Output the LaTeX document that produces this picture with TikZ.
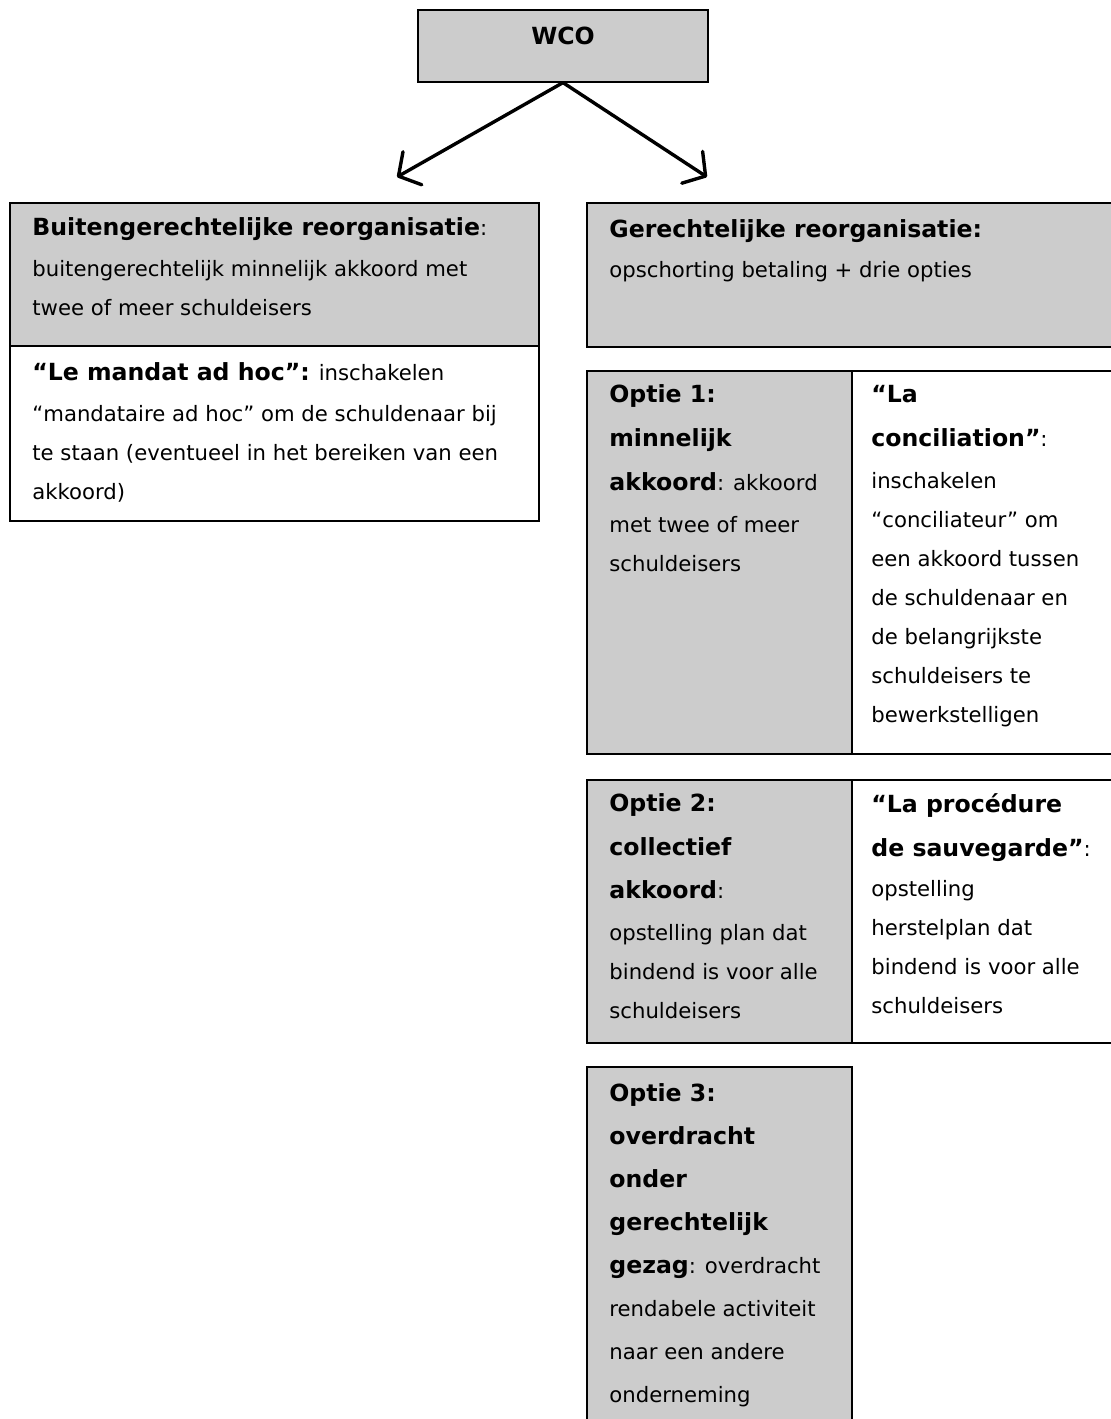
\documentclass[tikz,border=0pt]{standalone}
\usepackage{fontspec}
\setmainfont{DejaVu Sans}
\usetikzlibrary{arrows.meta}
\definecolor{cellgray}{RGB}{204,204,204}
\newcommand{\regfont}{\fontsize{10.6}{19.5}\selectfont}
\newcommand{\hdr}[1]{{\fontsize{11.8}{19.5}\selectfont\bfseries #1}}
\newcommand{\opt}[1]{{\fontsize{11.8}{19.5}\selectfont\bfseries #1}}
\tikzset{
  graycell/.style={draw=black, fill=cellgray, line width=0.6pt},
  whitecell/.style={draw=black, fill=white, line width=0.6pt},
  % anchored on the baseline of the last line
  celltext/.style={anchor=base west, inner sep=0pt, align=left, font=\regfont},
  flowarrow/.style={-{Straight Barb[length=8pt,width=19pt,round]}, line width=1.7pt, line cap=round}
}

\begin{document}
\begin{tikzpicture}[x=0.5pt, y=-0.5pt]
  \useasboundingbox (0,0) rectangle (1110,1419);

  % top box
  \node[graycell, minimum width=145pt, minimum height=36pt, inner sep=0pt] (wco) at (563,46) {};
  \node[anchor=base, inner sep=0pt] (wcolabel) at (563,44) {\opt{WCO}};

  % arrows
  \coordinate (tipL) at (397,177);
  \coordinate (tipR) at (707,177);
  \draw[flowarrow] (wco.south) -- (tipL);
  \draw[flowarrow] (wco.south) -- (tipR);

  % left column
  \draw[graycell] (10,203) rectangle (539,346);
  \draw[whitecell] (10,346) rectangle (539,521);
  \node[celltext] (buiten) at (32,315) {\hdr{Buitengerechtelijke reorganisatie}:\\[1pt]
    buitengerechtelijk minnelijk akkoord met\\
    twee of meer schuldeisers};
  \node[celltext] (mandat) at (32,499) {\hdr{“Le mandat ad hoc”:} inschakelen\\[1pt]
    “mandataire ad hoc” om de schuldenaar bij\\
    te staan (eventueel in het bereiken van een\\
    akkoord)};

  % right column
  \draw[graycell] (587,203) rectangle (1114,347);
  \node[celltext] (gerecht) at (609,277) {\hdr{Gerechtelijke reorganisatie:}\\[0.5pt]
    opschorting betaling + drie opties};

  % option 1
  \draw[graycell] (587,371) rectangle (852,754);
  \draw[whitecell] (852,371) rectangle (1114,754);
  \node[celltext] (optie1) at (609,571) {\opt{Optie 1:}\\[2.5pt]
    \opt{minnelijk}\\[2.5pt]
    \opt{akkoord}: akkoord\\[1.5pt]
    met twee of meer\\
    schuldeisers};
  \node[celltext] (concil) at (871,722) {\opt{“La}\\[2.5pt]
    \opt{conciliation”}:\\[1.5pt]
    inschakelen\\
    “conciliateur” om\\
    een akkoord tussen\\
    de schuldenaar en\\
    de belangrijkste\\
    schuldeisers te\\
    bewerkstelligen};

  % option 2
  \draw[graycell] (587,780) rectangle (852,1043);
  \draw[whitecell] (852,780) rectangle (1114,1043);
  \node[celltext] (optie2) at (609,1018) {\opt{Optie 2:}\\[2.5pt]
    \opt{collectief}\\[2pt]
    \opt{akkoord}:\\[1.5pt]
    opstelling plan dat\\
    bindend is voor alle\\
    schuldeisers};
  \node[celltext] (sauve) at (871,1013) {\opt{“La procédure}\\[2.5pt]
    \opt{de sauvegarde”}:\\[0.5pt]
    opstelling\\
    herstelplan dat\\
    bindend is voor alle\\
    schuldeisers};

  % option 3
  \draw[graycell] (587,1067) rectangle (852,1425);
  \node[celltext, font=\fontsize{10.6}{21.5}\selectfont] (optie3) at (609,1402) {\opt{Optie 3:}\\
    \opt{overdracht}\\
    \opt{onder}\\
    \opt{gerechtelijk}\\
    \opt{gezag}: overdracht\\
    rendabele activiteit\\
    naar een andere\\
    onderneming};
\end{tikzpicture}
\end{document}
